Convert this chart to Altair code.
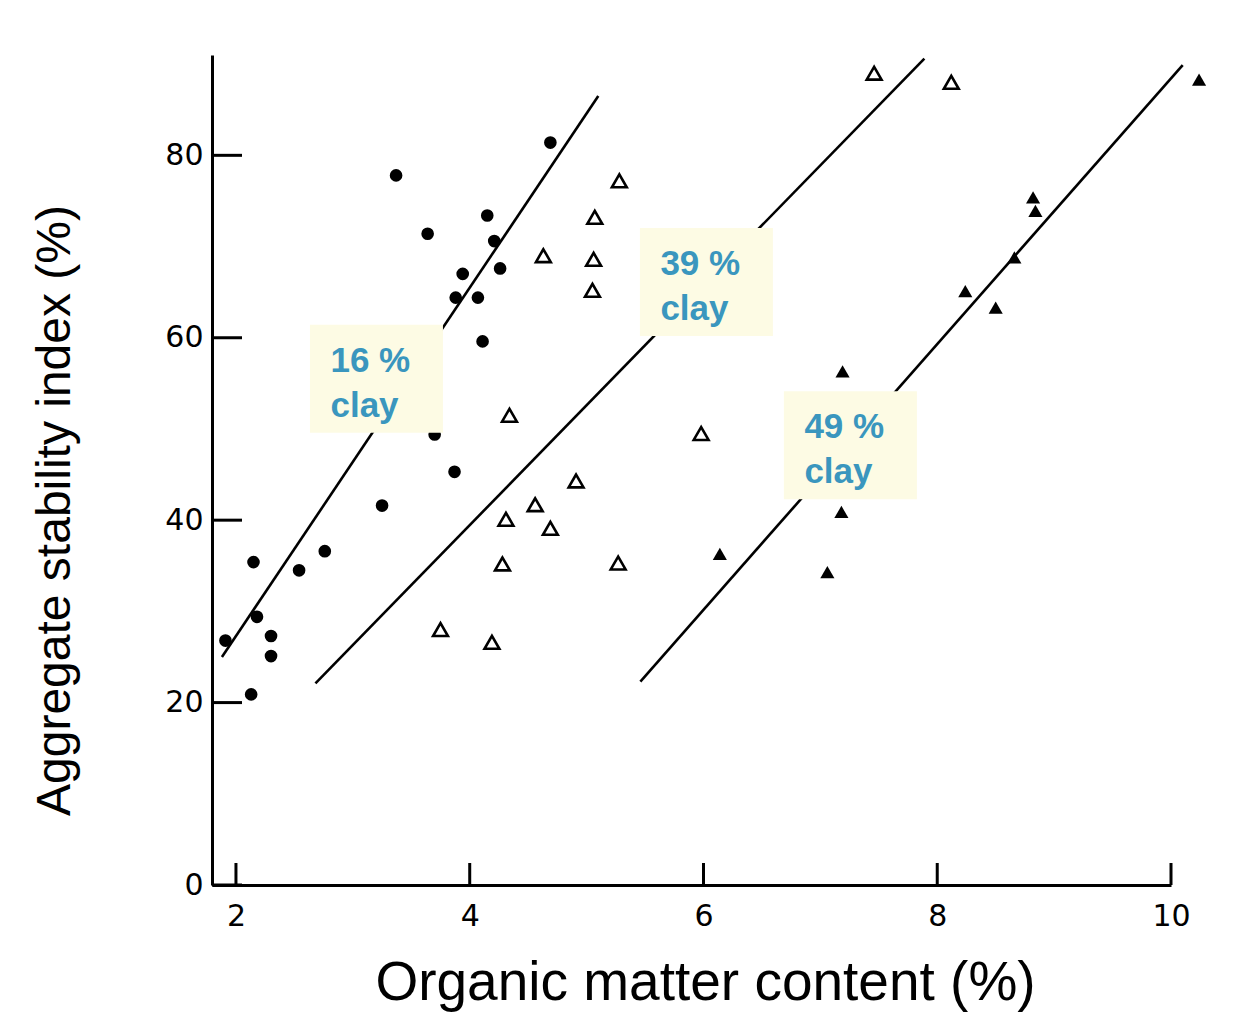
import altair as alt
import pandas as pd

# ---- data ----
circle_x = [1.91, 2.13, 2.15, 2.18, 2.30, 2.30, 2.54, 2.76, 3.25, 3.87, 3.70,
            3.37, 3.64, 4.15, 4.21, 3.94, 4.26, 3.88, 4.07, 4.11, 4.69]
circle_y = [26.8, 20.9, 35.4, 29.4, 27.3, 25.1, 34.5, 36.6, 41.6, 45.3, 49.4,
            77.8, 71.4, 73.4, 70.6, 67.0, 67.6, 64.4, 64.4, 59.6, 81.4]

open_tri_x = [5.28, 5.07, 4.63, 5.06, 5.05, 4.34, 5.98, 4.91, 4.56, 4.31, 4.69,
              4.28, 5.27, 3.75, 4.19, 7.46, 8.12]
open_tri_y = [77.2, 73.2, 69.0, 68.6, 65.2, 51.5, 49.5, 44.3, 41.7, 40.1, 39.1,
              35.2, 35.3, 28.0, 26.6, 89.0, 88.0]

fill_tri_x = [10.24, 8.82, 8.84, 8.66, 8.24, 8.50, 7.19, 7.18, 6.14, 7.06]
fill_tri_y = [88.3, 75.4, 73.9, 68.8, 65.1, 63.3, 56.3, 40.9, 36.3, 34.3]

line_names = ["16 % clay", "39 % clay", "49 % clay"]
line_x1 = [1.88, 2.68, 5.46]
line_y1 = [25.0, 22.1, 22.3]
line_x2 = [5.10, 7.89, 10.10]
line_y2 = [86.5, 90.6, 89.9]

label_top = ["16 %", "39 %", "49 %"]
label_bottom = ["clay", "clay", "clay"]
label_x = [3.202, 6.025, 7.257]
label_y = [55.5, 66.1, 48.2]

x_ticks = [2, 4, 6, 8, 10]
y_ticks = [0, 20, 40, 60, 80]

# ---- tables ----
circles = pd.DataFrame({"x": circle_x, "y": circle_y})
open_tri = pd.DataFrame({"x": open_tri_x, "y": open_tri_y})
fill_tri = pd.DataFrame({"x": fill_tri_x, "y": fill_tri_y})
lines = pd.DataFrame({"name": line_names, "x": line_x1, "y": line_y1,
                      "x2": line_x2, "y2": line_y2})
labels = pd.DataFrame({"top": label_top, "bottom": label_bottom,
                       "x": label_x, "y": label_y})
xt = pd.DataFrame({"v": x_ticks})
yt = pd.DataFrame({"v": y_ticks})

xs = alt.Scale(domain=[1.795, 10], nice=False, zero=False)
ys = alt.Scale(domain=[0, 91], nice=False, zero=False)

x_axis = alt.Axis(values=x_ticks, title="Organic matter content (%)", ticks=False,
                  tickSize=0, grid=False, domainColor="black", domainWidth=3,
                  labelFont="DejaVu Sans", labelFontSize=30, labelColor="black",
                  labelPadding=16, labelFlush=False, labelOverlap=False, format="d",
                  titleFont="Liberation Sans", titleFontSize=55, titleFontWeight="normal",
                  titleColor="black", titleX=493, titleY=114, titleBaseline="alphabetic",
                  titleAlign="center")
y_axis = alt.Axis(values=y_ticks, title="Aggregate stability index (%)", ticks=False,
                  tickSize=0, grid=False, domainColor="black", domainWidth=3,
                  labelFont="DejaVu Sans", labelFontSize=30, labelColor="black",
                  labelPadding=9, labelFlush=False, labelOverlap=False, format="d",
                  titleFont="Liberation Sans", titleFontSize=48, titleFontWeight="normal",
                  titleColor="black", titleX=-157, titleY=455, titleBaseline="middle",
                  titleAlign="center")


def X(f):
    return alt.X(f, type="quantitative", scale=xs, axis=x_axis)


def Y(f):
    return alt.Y(f, type="quantitative", scale=ys, axis=y_axis)


reg = alt.Chart(lines).mark_rule(color="black", strokeWidth=2.6).encode(
    x=X("x"), y=Y("y"), x2="x2:Q", y2="y2:Q")

pts_c = alt.Chart(circles).mark_point(shape="circle", filled=True, size=160,
                                      color="black", opacity=1).encode(x=X("x"), y=Y("y"))
pts_o = alt.Chart(open_tri).mark_point(shape="triangle-up", filled=False, size=220,
                                       strokeWidth=2.6, color="black", opacity=1).encode(x=X("x"), y=Y("y"))
pts_f = alt.Chart(fill_tri).mark_point(shape="triangle-up", filled=True, size=200,
                                       color="black", opacity=1).encode(x=X("x"), y=Y("y"))

ytick = alt.Chart(yt).mark_rule(color="black", strokeWidth=3).encode(
    y=Y("v"), x=alt.value(0), x2=alt.value(30))
xtick = alt.Chart(xt).mark_rule(color="black", strokeWidth=3).encode(
    x=X("v"), y=alt.value(830), y2=alt.value(808))

boxes = alt.Chart(labels).mark_rect(width=133, height=108, color="#FDFBE4").encode(
    x=X("x"), y=Y("y"))
txt1 = alt.Chart(labels).mark_text(font="Liberation Sans", fontSize=35, fontWeight="bold",
                                   color="#3A96BE", align="left", baseline="alphabetic",
                                   dx=-46, dy=-7).encode(x=X("x"), y=Y("y"), text="top:N")
txt2 = alt.Chart(labels).mark_text(font="Liberation Sans", fontSize=35, fontWeight="bold",
                                   color="#3A96BE", align="left", baseline="alphabetic",
                                   dx=-46, dy=38).encode(x=X("x"), y=Y("y"), text="bottom:N")

chart = alt.layer(reg, pts_c, pts_o, pts_f, ytick, xtick, boxes, txt1, txt2).properties(
    width=959, height=830,
    padding={"left": 204, "top": 47, "right": 40, "bottom": 128},
    autosize=alt.AutoSizeParams(type="none"),
    background="white",
).configure_view(strokeWidth=0)

chart.save("out.html", embed_options={"renderer": "svg", "actions": False})
